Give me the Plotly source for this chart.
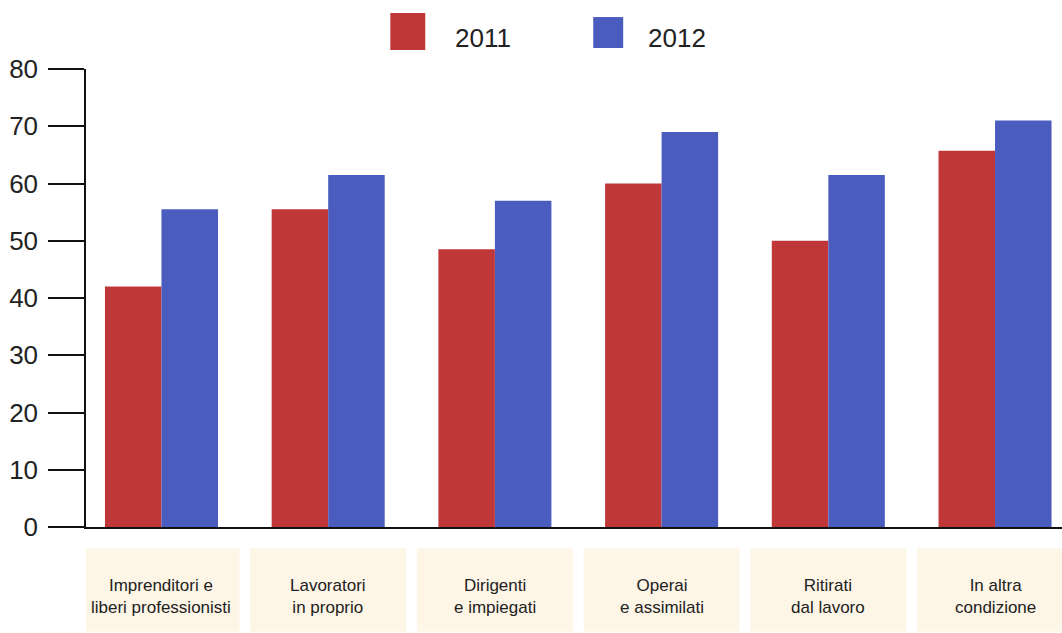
import plotly.graph_objects as go

categories = ["Imprenditori e<br>liberi professionisti", "Lavoratori<br>in proprio",
              "Dirigenti<br>e impiegati", "Operai<br>e assimilati",
              "Ritirati<br>dal lavoro", "In altra<br>condizione"]
series_names = ["2011", "2012"]
values_2011 = [42, 55.5, 48.5, 60, 50, 65.7]
values_2012 = [55.5, 61.5, 57, 69, 61.5, 71]
y_ticks = [0, 10, 20, 30, 40, 50, 60, 70, 80]

RED = "#c0373a"
BLUE = "#4b5cbf"
FONT = "Liberation Sans, Arial, sans-serif"
TXT = "#222222"

xpos = list(range(len(categories)))

fig = go.Figure()
fig.add_trace(go.Bar(x=xpos, y=values_2011, name=series_names[0], marker_color=RED,
                     marker_line_width=0, showlegend=False))
fig.add_trace(go.Bar(x=xpos, y=values_2012, name=series_names[1], marker_color=BLUE,
                     marker_line_width=0, showlegend=False))

shapes = []
annotations = []
half = 0.4676
for i, c in enumerate(categories):
    shapes.append(dict(type="rect", xref="x", yref="paper", x0=i - half, x1=i + half,
                       y0=-0.228, y1=-0.0469, fillcolor="#fdf5e6", line_width=0, layer="below"))
    annotations.append(dict(x=i, y=-0.1516, xref="x", yref="paper", text=c, showarrow=False,
                            font=dict(family=FONT, size=17, color=TXT), align="center",
                            xanchor="center", yanchor="middle"))

# legend
shapes.append(dict(type="rect", xref="paper", yref="paper", x0=0.3118, x1=0.3476,
                   y0=1.0414, y1=1.1221, fillcolor=RED, line_width=0))
shapes.append(dict(type="rect", xref="paper", yref="paper", x0=0.5197, x1=0.5504,
                   y0=1.0458, y1=1.1134, fillcolor=BLUE, line_width=0))
annotations.append(dict(x=0.3764, y=1.0676, xref="paper", yref="paper", text=series_names[0],
                        showarrow=False, xanchor="left", yanchor="middle",
                        font=dict(family=FONT, size=26, color=TXT)))
annotations.append(dict(x=0.5740, y=1.0676, xref="paper", yref="paper", text=series_names[1],
                        showarrow=False, xanchor="left", yanchor="middle",
                        font=dict(family=FONT, size=26, color=TXT)))

fig.update_layout(
    width=1062, height=633,
    margin=dict(l=85.5, r=0, t=69, b=105.5),
    plot_bgcolor="white", paper_bgcolor="white",
    barmode="group", bargap=0.322, bargroupgap=0,
    shapes=shapes, annotations=annotations,
    xaxis=dict(range=[-0.4527, 5.4017], showticklabels=False, ticks="", showgrid=False,
               zeroline=False, showline=True, linecolor="#111111", linewidth=1.5),
    yaxis=dict(range=[0, 80], tickvals=y_ticks, showgrid=False, zeroline=False,
               showline=True, linecolor="#111111", linewidth=1.5,
               ticks="outside", ticklen=36, tickwidth=1.5, tickcolor="#111111",
               ticklabelstandoff=5,
               tickfont=dict(family=FONT, size=26, color=TXT)),
    font=dict(family=FONT, color=TXT),
)

fig.write_html("out.html", config={"displayModeBar": False},
               post_script="document.body.style.margin='0';document.body.style.overflow='hidden';")
